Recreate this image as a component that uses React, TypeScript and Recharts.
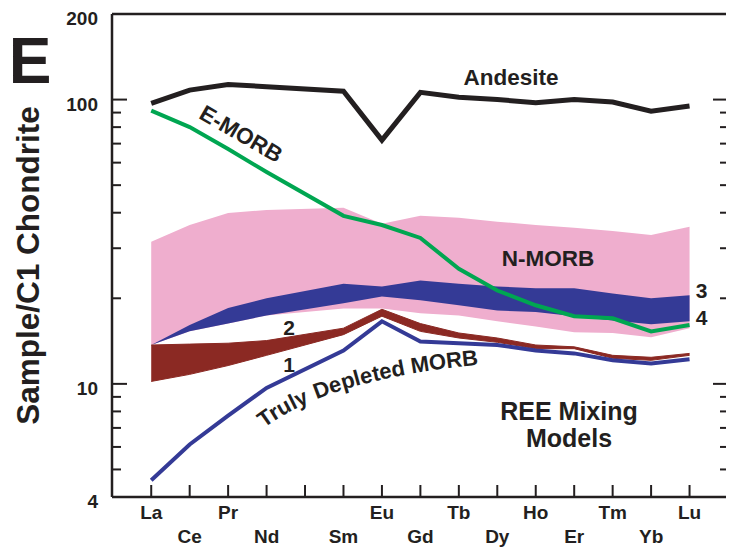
import React from "react";
import { ComposedChart, Area, Line, XAxis, YAxis, ReferenceLine } from "recharts";

// tick slots along the x axis (Pm keeps its place but gets no label)
const TICK_LABELS = ["La", "Ce", "Pr", "Nd", "", "Sm", "Eu", "Gd", "Tb", "Dy", "Ho", "Er", "Tm", "Yb", "Lu"];
const REE = ["La", "Ce", "Pr", "Nd", "Sm", "Eu", "Gd", "Tb", "Dy", "Ho", "Er", "Tm", "Yb", "Lu"];

const andesite = [97, 108, 113, 111, 107, 72, 106, 102, 100, 97.5, 100, 98, 91, 95];
const eMorb = [91.5, 80, 67, 55.6, 39, 36.2, 32.6, 25.4, 21.3, 18.9, 17.3, 17.0, 15.3, 16.1];
const nMorbHigh = [31.6, 36.2, 39.9, 40.9, 41.6, 36.6, 39.0, 38.4, 37.2, 36.2, 35.4, 34.5, 33.4, 35.7];
const nMorbLow = [13.7, 15.3, 16.3, 17.4, 18.4, 18.4, 17.7, 17.4, 16.6, 15.9, 15.2, 15.1, 14.6, 15.7];
const model3 = [13.7, 16.1, 18.5, 20.0, 22.5, 22.0, 23.1, 22.5, 22.0, 21.7, 21.7, 20.8, 20.0, 20.5];
const model4 = [13.7, 15.3, 16.3, 17.4, 19.2, 20.3, 19.7, 18.9, 18.1, 17.9, 17.3, 16.7, 16.2, 16.6];
const model2High = [13.7, 13.8, 13.9, 14.2, 15.7, 18.3, 16.3, 15.1, 14.5, 13.7, 13.5, 12.6, 12.4, 12.8];
const model2Low = [10.2, 10.8, 11.6, 12.6, 14.9, 17.3, 15.3, 14.5, 14.0, 13.3, 13.3, 12.3, 12.1, 12.6];
const depleted = [4.58, 6.12, 7.73, 9.68, 13.1, 16.6, 14.1, 13.9, 13.7, 13.1, 12.8, 12.1, 11.8, 12.2];

const Y_TICKS = [4, 5, 6, 7, 8, 9, 10, 20, 30, 40, 50, 60, 70, 80, 90, 100, 200];
const Y_LABELS = [4, 10, 100, 200];

// curved caption under the depleted-MORB line, one word per textPath
const CURVE_WORDS = ["Truly", "Depleted", "MORB"];
const CURVE_OFFSETS = [8, 68, 167];

const INK = "#231f20";
const PINK = "#efaece";
const BLUE = "#343a96";
const RED = "#8b2923";
const GREEN = "#00a651";
const FONT = "'Liberation Sans', Arial, Helvetica, sans-serif";

const data = REE.map((el, i) => ({
  el,
  pos: TICK_LABELS.indexOf(el),
  andesite: andesite[i],
  eMorb: eMorb[i],
  nMorb: [nMorbLow[i], nMorbHigh[i]],
  model34: [model4[i], model3[i]],
  model2: [model2Low[i], model2High[i]],
  depleted: depleted[i],
}));

const ElementTick = (props: any) => {
  const { x, y, payload } = props;
  const i = payload.value as number;
  const label = TICK_LABELS[i];
  return (
    <g>
      <line x1={x} x2={x} y1={y} y2={y - 12} stroke={INK} strokeWidth={2} />
      {label && (
        <text x={x} y={y + (i % 2 === 0 ? 22 : 46)} textAnchor="middle" fontSize={19} fontWeight="bold" fontFamily={FONT} fill={INK}>
          {label}
        </text>
      )}
    </g>
  );
};

const LeftTick = (props: any) => {
  const { x, y, payload } = props;
  const v = payload.value as number;
  const major = v === 10 || v === 100;
  const edge = v === 4 || v === 200;
  return (
    <g>
      {!edge && <line x1={x} x2={x + (major ? 15 : 9)} y1={y} y2={y} stroke={INK} strokeWidth={2} />}
      {Y_LABELS.includes(v) && (
        <text x={x - 14} y={y + 11} textAnchor="end" fontSize={19} fontWeight="bold" fontFamily={FONT} fill={INK}>
          {v}
        </text>
      )}
    </g>
  );
};

const RightTick = (props: any) => {
  const { x, y, payload } = props;
  const v = payload.value as number;
  if (v === 4 || v === 200) return <g />;
  const major = v === 10 || v === 100;
  return <line x1={x} x2={x - (major ? 15 : 8)} y1={y} y2={y} stroke={INK} strokeWidth={2} />;
};

const textStyle = { fontFamily: FONT, fontWeight: "bold" as const, fill: INK };

export default function App() {
  return (
    <div style={{ position: "relative", width: 726, height: 542 }}>
      <ComposedChart width={726} height={542} data={data} margin={{ top: 6, right: 0, bottom: 0, left: 0 }}>
        <XAxis
          dataKey="pos"
          type="number"
          domain={[-1.02, 15]}
          ticks={TICK_LABELS.map((_, i) => i)}
          interval={0}
          height={53}
          tickSize={0}
          tickMargin={0}
          tickLine={false}
          tick={<ElementTick />}
          axisLine={{ stroke: INK, strokeWidth: 2.5 }}
        />
        <YAxis
          type="number"
          scale="log"
          domain={[4, 200]}
          allowDataOverflow
          ticks={Y_TICKS}
          interval={0}
          width={104}
          tickSize={0}
          tickMargin={0}
          tickLine={false}
          tick={<LeftTick />}
          axisLine={{ stroke: INK, strokeWidth: 2.5 }}
        />
        <YAxis
          yAxisId="right"
          orientation="right"
          type="number"
          scale="log"
          domain={[4, 200]}
          allowDataOverflow
          ticks={Y_TICKS}
          interval={0}
          width={6}
          tickSize={0}
          tickMargin={0}
          tickLine={false}
          tick={<RightTick />}
          axisLine={{ stroke: INK, strokeWidth: 2.5 }}
        />
        <ReferenceLine y={200} stroke={INK} strokeWidth={2.5} />

        <Area dataKey="nMorb" type="linear" fill={PINK} fillOpacity={1} stroke="none" isAnimationActive={false} />
        <Area dataKey="model34" type="linear" fill={BLUE} fillOpacity={1} stroke="none" isAnimationActive={false} />
        <Area dataKey="model2" type="linear" fill={RED} fillOpacity={1} stroke={RED} strokeWidth={1} isAnimationActive={false} />
        <Line dataKey="depleted" type="linear" stroke={BLUE} strokeWidth={4} dot={false} isAnimationActive={false} />
        <Line dataKey="eMorb" type="linear" stroke={GREEN} strokeWidth={4} dot={false} isAnimationActive={false} />
        <Line dataKey="andesite" type="linear" stroke={INK} strokeWidth={5} dot={false} isAnimationActive={false} />
      </ComposedChart>

      <svg width={726} height={542} style={{ position: "absolute", left: 0, top: 0, pointerEvents: "none" }}>
        <defs>
          <path id="depleted-label" d="M 250 425 Q 315 370.4 479 356" fill="none" />
        </defs>
        <text x={22} y={75} textAnchor="middle" fontSize={64} {...textStyle}>E</text>
        <text x={30.5} y={257.5} textAnchor="middle" fontSize={31.5} transform="rotate(-90 30.5 257.5)" {...textStyle}>
          Sample/C1 Chondrite
        </text>
        <text x={503} y={77} textAnchor="middle" fontSize={22.5} {...textStyle}>Andesite</text>
        <text x={233} y={126} textAnchor="middle" dominantBaseline="central" fontSize={22.5} transform="rotate(30 233 126)" {...textStyle}>
          E-MORB
        </text>
        <text x={540} y={258} textAnchor="middle" fontSize={22.5} {...textStyle}>N-MORB</text>
        <text x={281} y={327} textAnchor="middle" fontSize={21} {...textStyle}>2</text>
        <text x={281} y={364} textAnchor="middle" fontSize={21} {...textStyle}>1</text>
        <text x={693.5} y={290} textAnchor="middle" fontSize={21} {...textStyle}>3</text>
        <text x={693.5} y={317} textAnchor="middle" fontSize={21} {...textStyle}>4</text>
        {CURVE_WORDS.map((w, i) => (
          <text key={w} fontSize={22} {...textStyle}>
            <textPath href="#depleted-label" startOffset={CURVE_OFFSETS[i]}>
              {w}
            </textPath>
          </text>
        ))}
        <text x={561} y={412} textAnchor="middle" fontSize={25} {...textStyle}>REE Mixing</text>
        <text x={561} y={439} textAnchor="middle" fontSize={25} {...textStyle}>Models</text>
      </svg>
    </div>
  );
}
